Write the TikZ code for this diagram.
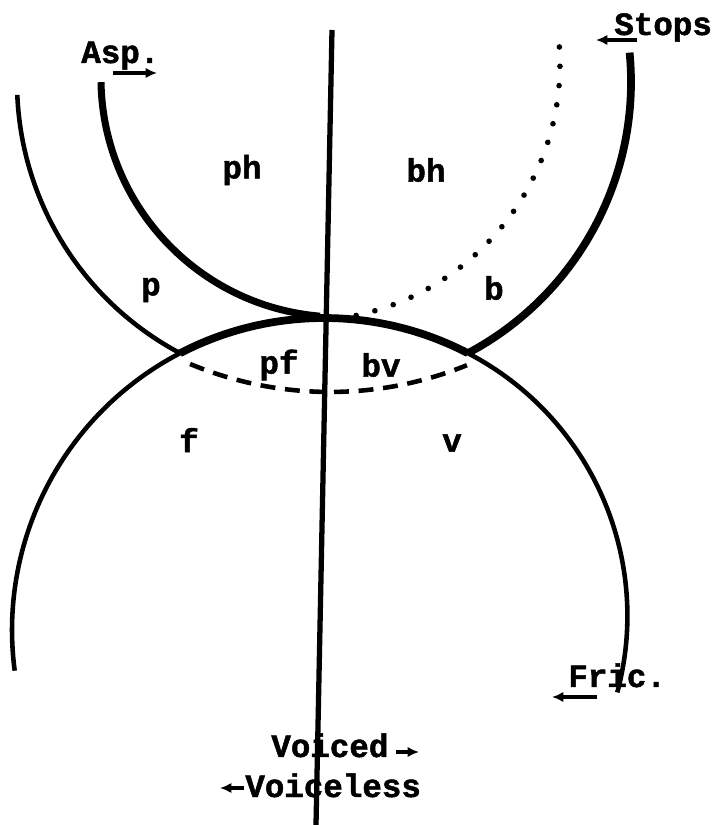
\documentclass[tikz,border=0pt]{standalone}
\usepackage{fontspec}
\setmonofont{Liberation Mono}[BoldFeatures={FakeBold=1.5}]
\usetikzlibrary{arrows.meta}

\begin{document}
\begin{tikzpicture}[x=0.02cm,y=0.02cm,
    thinarc/.style={line width=2.6pt},
    thickarc/.style={line width=4.4pt},
    lbl/.style={font=\fontsize{18.5}{18.5}\selectfont\ttfamily\bfseries, inner sep=0pt},
    tag/.style={lbl, anchor=base west},
    ptr/.style={line width=2.4pt, -{Latex[length=6.5pt,width=6pt]}}]
  \useasboundingbox (0,0) rectangle (721,825);

  \coordinate (ul) at (17.3,730.1);
  \coordinate (ur) at (467.9,471.8);
  \coordinate (ll) at (14.7,154.3);
  \coordinate (lx) at (180.1,471.8);
  \coordinate (asptop) at (101,742.8);
  \coordinate (dottop) at (559.4,778);
  \coordinate (dashl) at (190.1,461);
  \coordinate (top) at (332,795);
  \coordinate (bot) at (316,0);

  \draw[thinarc] (ul) arc[start angle=182.4, end angle=242.05, radius=307];
  \draw[thickarc] (ur) arc[start angle=297.95, end angle=365.5, radius=307];
  \draw[thinarc] (ll) arc[start angle=187.5, end angle=117.47, radius=312];
  \draw[thickarc] (lx) arc[start angle=117.47, end angle=62.53, radius=312];
  \draw[thinarc] (ur) arc[start angle=62.53, end angle=-15, radius=296];
  \draw[line width=4pt] (asptop) arc[start angle=181, end angle=265.2, radius=239];
  \draw[line width=3.2pt, line cap=round, dash pattern=on 0pt off 11pt]
    (dottop) arc[start angle=3.8, end angle=-81.3, radius=257];
  \draw[line width=2.6pt, dash pattern=on 8.5pt off 5.5pt]
    (dashl) arc[start angle=247.4, end angle=292.1, radius=364];
  \draw[line width=3pt] (top) -- (bot);

  \node[tag] (asp) at (81,762) {Asp.};
  \node[tag] (stops) at (614,790) {Stops};
  \node[tag] (fric) at (568,138) {Fric.};
  \node[tag] (voiced) at (271,68) {Voiced};
  \node[tag] (voiceless) at (245,28) {Voiceless};

  \coordinate (asp1) at (113,752);  \coordinate (asp2) at (157,752);
  \coordinate (stp1) at (637,785);  \coordinate (stp2) at (596,785);
  \coordinate (frc1) at (597,128);  \coordinate (frc2) at (552,128);
  \coordinate (vcd1) at (396,73);   \coordinate (vcd2) at (419,73);
  \coordinate (vls1) at (244,37);   \coordinate (vls2) at (220,37);
  \draw[ptr] (asp1) -- (asp2);
  \draw[ptr] (stp1) -- (stp2);
  \draw[ptr] (frc1) -- (frc2);
  \draw[ptr] (vcd1) -- (vcd2);
  \draw[ptr] (vls1) -- (vls2);

  \node[lbl] (ph) at (242,655) {ph};
  \node[lbl] (bh) at (426,655) {bh};
  \node[lbl] (p) at (151,535) {p};
  \node[lbl] (b) at (494,537) {b};
  \node[lbl] (pf) at (279,460) {pf};
  \node[lbl] (bv) at (381,460) {bv};
  \node[lbl] (f) at (189,385) {f};
  \node[lbl] (v) at (452,382) {v};
\end{tikzpicture}
\end{document}
